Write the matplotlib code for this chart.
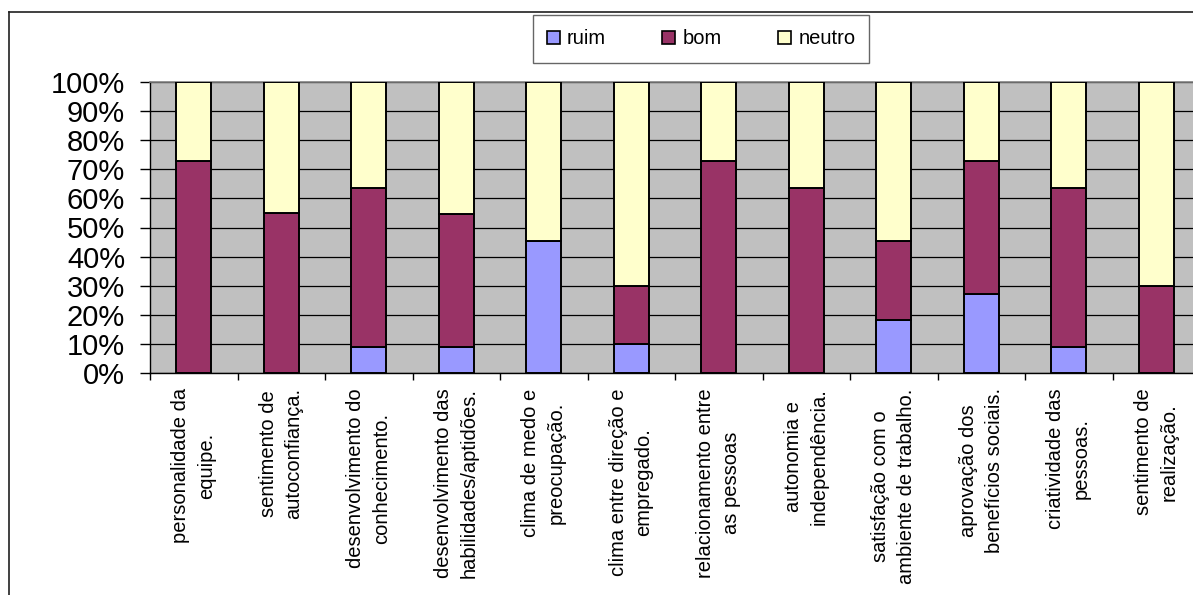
import matplotlib
matplotlib.use('Agg')
import matplotlib.pyplot as plt
import numpy as np
from matplotlib.lines import Line2D

plt.rcParams['font.family'] = ['Liberation Sans', 'DejaVu Sans']

categories = [
    'personalidade da\nequipe.',
    'sentimento de\nautoconfiança.',
    'desenvolvimento do\nconhecimento.',
    'desenvolvimento das\nhabilidades/aptidões.',
    'clima de medo e\npreocupação.',
    'clima entre direção e\nempregado.',
    'relacionamento entre\nas pessoas',
    'autonomia e\nindependência.',
    'satisfação com o\nambiente de trabalho.',
    'aprovação dos\nbenefícios sociais.',
    'criatividade das\npessoas.',
    'sentimento de\nrealização.',
]
ruim = [0, 0, 9.1, 9.1, 45.5, 10, 0, 0, 18.2, 27.3, 9.1, 0]
bom = [72.7, 55.0, 54.5, 45.4, 0, 20, 72.7, 63.6, 27.2, 45.4, 54.5, 30]
neutro = [27.3, 45.0, 36.4, 45.5, 54.5, 70, 27.3, 36.4, 54.6, 27.3, 36.4, 70]
y_ticks = [0, 10, 20, 30, 40, 50, 60, 70, 80, 90, 100]
y_labels = ['%d%%' % v for v in y_ticks]

c_ruim = '#9999FF'
c_bom = '#993366'
c_neutro = '#FFFFCC'

W, H = 1193, 595
fig = plt.figure(figsize=(W / 100, H / 100), dpi=100)
# plot area runs past the right edge, as in the cropped original
ax = fig.add_axes([150 / W, 1 - 373 / H, 1050 / W, 291 / H])
ax.set_facecolor('#C0C0C0')

x = np.arange(len(categories))
bottom_neutro = np.array(ruim) + np.array(bom)
kw = dict(width=0.4, edgecolor='black', linewidth=1.4, zorder=3)
ax.bar(x, ruim, color=c_ruim, label='ruim', **kw)
ax.bar(x, bom, bottom=ruim, color=c_bom, label='bom', **kw)
ax.bar(x, neutro, bottom=bottom_neutro, color=c_neutro, label='neutro', **kw)

ax.set_xlim(-0.5, len(categories) - 0.5)
ax.set_ylim(0, 100)
ax.set_yticks(y_ticks)
ax.set_yticklabels(y_labels, fontsize=21)
ax.tick_params(axis='y', length=7, width=1, pad=11, color='black')
ax.yaxis.grid(True, color='black', linewidth=0.9)
ax.set_axisbelow(True)

# ticks between categories, labels centred on them
ax.set_xticks(np.arange(len(categories) + 1) - 0.5)
ax.set_xticklabels([])
ax.set_xticks(x, minor=True)
ax.set_xticklabels(categories, minor=True, rotation=90, fontsize=14.5,
                   va='top', ha='center', multialignment='center',
                   linespacing=1.45)
ax.tick_params(axis='x', which='major', length=5, width=1, color='black')
ax.tick_params(axis='x', which='minor', length=0, pad=11)

ax.spines['right'].set_visible(False)
ax.spines['top'].set_color('#808080')
ax.spines['top'].set_linewidth(1.2)
ax.spines['left'].set_linewidth(1.0)
ax.spines['bottom'].set_linewidth(1.0)

leg = ax.legend(loc='center', bbox_to_anchor=(701 / W, 1 - 39 / H),
                bbox_transform=fig.transFigure, ncol=3, fontsize=14.5,
                frameon=True, fancybox=False, handlelength=0.65,
                handleheight=0.65, handletextpad=0.35, columnspacing=2.8,
                borderpad=0.7)
leg.get_frame().set_edgecolor('#404040')
leg.get_frame().set_linewidth(1.0)
for p in leg.get_patches():
    p.set_edgecolor('black')
    p.set_linewidth(1.2)

# outer chart frame (left and top edges visible)
fig.add_artist(Line2D([9 / W, 9 / W], [0, 1 - 12 / H], transform=fig.transFigure,
                      color='#202020', linewidth=1.2))
fig.add_artist(Line2D([9 / W, 1], [1 - 12 / H, 1 - 12 / H], transform=fig.transFigure,
                      color='#202020', linewidth=1.2))

fig.savefig('out.png', dpi=100)
